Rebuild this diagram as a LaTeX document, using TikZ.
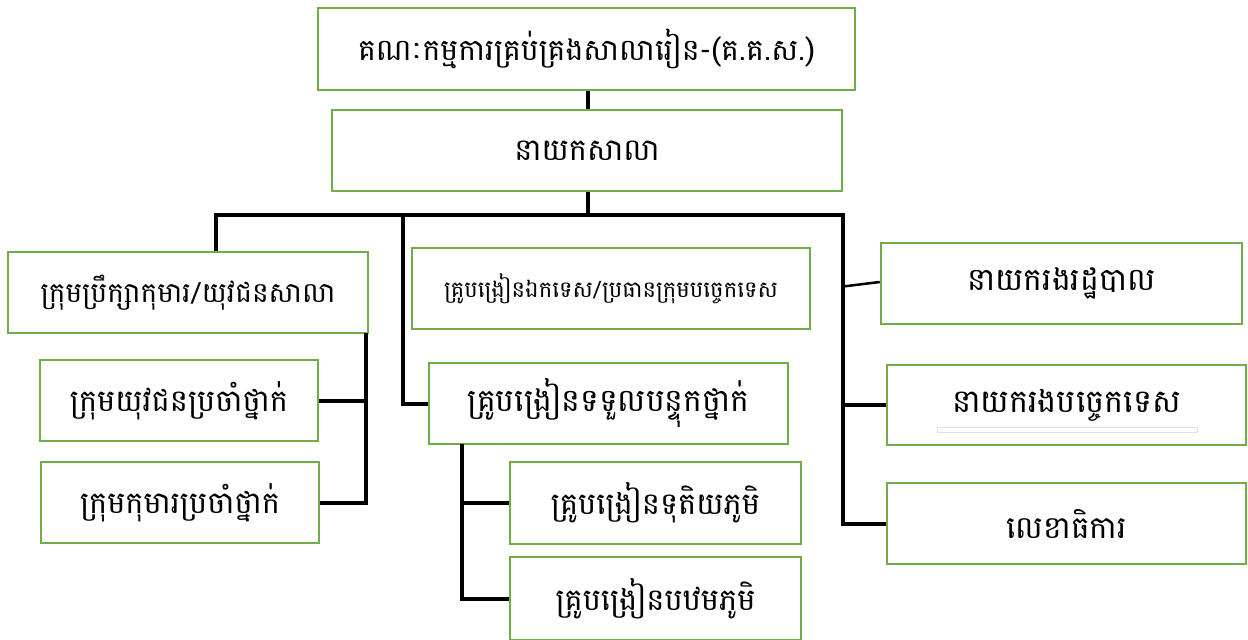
\documentclass[tikz,border=0pt]{standalone}
\usepackage{fontspec}
\newfontfamily\khmer[Script=Khmer]{Battambang}
\definecolor{boxgreen}{RGB}{112,173,71}
\begin{document}
\begin{tikzpicture}[x=1pt,y=-1pt,
  box/.style={draw=boxgreen, line width=2.5pt, fill=white, inner sep=0pt, font=\khmer\fontsize{30.5}{34}\selectfont},
  conn/.style={line width=4pt, black, line join=miter},
  thinconn/.style={line width=2.5pt, black}]
\useasboundingbox (0,0) rectangle (1248,640);
\fill[white] (0,0) rectangle (1248,640);
\coordinate (bl) at (216,215);
\coordinate (bm) at (403,215);
\coordinate (br) at (843,215);
\coordinate (cv) at (366,333);
\coordinate (tv) at (462,444);
% boxes
\node[box, minimum width=537pt, minimum height=82pt, font=\khmer\fontsize{30}{34}\selectfont] (top) at (586.5,49) {គណៈកម្មការគ្រប់គ្រងសាលារៀន-(គ.គ.ស.)};
\node[box, minimum width=510pt, minimum height=81pt] (prin) at (587,150.5) {នាយកសាលា};
\node[box, minimum width=360pt, minimum height=81pt, font=\khmer\fontsize{28}{32}\selectfont] (council) at (188,292.5) {ក្រុមប្រឹក្សាកុមារ/យុវជនសាលា};
\node[box, minimum width=398pt, minimum height=81pt, font=\khmer\fontsize{22.7}{26}\selectfont] (spec) at (611,288.5) {គ្រូបង្រៀនឯកទេស/ប្រធានក្រុមបច្ចេកទេស};
\node[box, minimum width=361pt, minimum height=81pt, font=\khmer\fontsize{31.5}{34}\selectfont] (dadmin) at (1061.5,283.5) {នាយករងរដ្ឋបាល};
\node[box, minimum width=359pt, minimum height=80pt, font=\khmer\fontsize{32}{34}\selectfont] (dtech) at (1066.5,405) {\raisebox{5pt}{នាយករងបច្ចេកទេស}};
\node[box, minimum width=278pt, minimum height=81pt] (youth) at (179,400.5) {ក្រុមយុវជនប្រចាំថ្នាក់};
\node[box, minimum width=278pt, minimum height=81pt] (child) at (180,502.5) {ក្រុមកុមារប្រចាំថ្នាក់};
\node[box, minimum width=359pt, minimum height=81pt, font=\khmer\fontsize{31.5}{34}\selectfont] (ct) at (608.5,403.5) {គ្រូបង្រៀនទទួលបន្ទុកថ្នាក់};
\node[box, minimum width=291pt, minimum height=82pt] (sec2) at (655.5,503) {គ្រូបង្រៀនទុតិយភូមិ};
\node[box, minimum width=291pt, minimum height=83pt] (prim) at (655.5,598.5) {គ្រូបង្រៀនបឋមភូមិ};
\node[box, minimum width=359pt, minimum height=81pt, font=\khmer\fontsize{31}{34}\selectfont] (secr) at (1066.5,523.5) {លេខាធិការ};
\draw[boxgreen!20!gray!25, line width=1pt] (937,427) rectangle (1197,432);
% connectors
\draw[conn] (588,0 |- top.south) coordinate (ts) -- (ts |- prin.north);
\draw[conn] (588,0 |- prin.south) coordinate (ps) -- (ps |- bl);
\draw[conn] (bl |- council.north) -- (bl) -- (br) -- (br |- secr.west) -- (secr.west);
\draw[thinconn] ([yshift=-3pt]br |- dadmin.west) -- ([yshift=1.5pt]dadmin.west);
\draw[conn] (br |- dtech.west) -- (dtech.west);
\draw[conn] (bm) -- (bm |- ct.west) -- (ct.west);
\draw[conn] (cv) -- (cv |- child.east) -- (child.east);
\draw[conn] (youth.east) -- (cv |- youth.east);
\draw[conn] (tv) -- (tv |- prim.west) -- (prim.west);
\draw[conn] (tv |- sec2.west) -- (sec2.west);
\end{tikzpicture}
\end{document}
